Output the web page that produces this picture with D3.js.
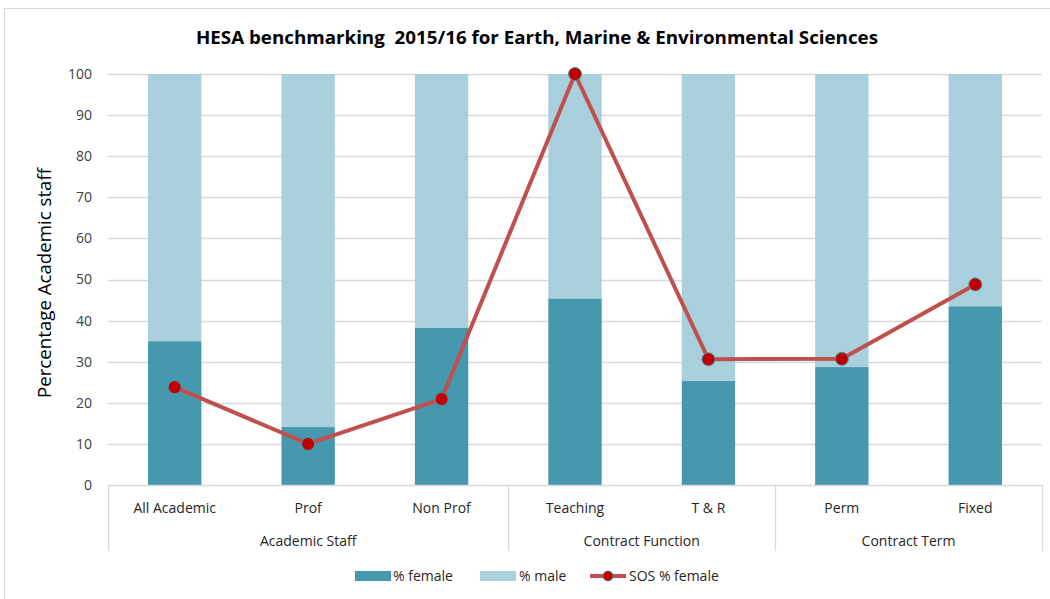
<!DOCTYPE html>
<html>
<head>
<meta charset="utf-8">
<script src="https://cdn.jsdelivr.net/npm/d3@7"></script>
<style>
  html, body { margin: 0; padding: 0; background: #fff; }
  svg { display: block; font-family: "Open Sans", sans-serif; }
</style>
</head>
<body>
<svg id="chart" width="1050" height="599"></svg>
<script>
// Staff categories and their groupings
const categories = ["All Academic", "Prof", "Non Prof", "Teaching", "T & R", "Perm", "Fixed"];
const groups = [
  { name: "Academic Staff", members: ["All Academic", "Prof", "Non Prof"] },
  { name: "Contract Function", members: ["Teaching", "T & R"] },
  { name: "Contract Term", members: ["Perm", "Fixed"] }
];
// Percentages (HESA benchmark) and SOS female share
const pctFemale = [35.0, 14.1, 38.3, 45.4, 25.3, 28.7, 43.5];
const pctMale = pctFemale.map(v => 100 - v);
const sosFemale = [23.8, 10.0, 20.9, 100.0, 30.6, 30.7, 48.8];
const yTicks = [0, 10, 20, 30, 40, 50, 60, 70, 80, 90, 100];

const colFemale = "#4598ae";
const colMale = "#aacfdd";
const colLine = "#c0504d";
const colMarker = "#c00000";
const colGrid = "#d9d9d9";

const svg = d3.select("#chart");
const W = 1050, H = 599;

// outer frame
svg.append("rect").attr("x", 4.5).attr("y", 8.5).attr("width", W - 4).attr("height", H - 6)
  .attr("fill", "#fff").attr("stroke", "#d9d9d9").attr("stroke-width", 1);

const x = d3.scaleBand().domain(categories).range([108, 1042]).paddingInner(0.6).paddingOuter(0.3);
const y = d3.scaleLinear().domain([0, 100]).range([485, 74]);

// title
svg.append("text").attr("x", 537).attr("y", 44).attr("text-anchor", "middle")
  .attr("font-size", 18.5).attr("font-weight", "bold").attr("fill", "#000")
  .attr("textLength", 682).attr("lengthAdjust", "spacingAndGlyphs")
  .style("white-space", "pre")
  .text("HESA benchmarking  2015/16 for Earth, Marine & Environmental Sciences");

// gridlines
svg.append("g").selectAll("line").data(yTicks.filter(d => d > 0)).join("line")
  .attr("x1", 108).attr("x2", 1042)
  .attr("y1", d => Math.round(y(d)) + 0.5).attr("y2", d => Math.round(y(d)) + 0.5)
  .attr("stroke", colGrid).attr("stroke-width", 1.3);

// y axis labels
const yAxis = d3.axisLeft(y).tickValues(yTicks).tickSize(0).tickPadding(16);
svg.append("g").attr("transform", "translate(108,0)").call(yAxis)
  .call(g => g.select(".domain").remove())
  .call(g => g.selectAll("text").attr("font-size", 14).attr("fill", "#404040")
    .attr("font-family", "'Open Sans', sans-serif"));

svg.append("text").attr("transform", "translate(51,283) rotate(-90)")
  .attr("text-anchor", "middle").attr("font-size", 18).attr("fill", "#000")
  .attr("textLength", 230).attr("lengthAdjust", "spacingAndGlyphs")
  .text("Percentage Academic staff");

// stacked bars
const rows = categories.map((c, i) => ({ cat: c, female: pctFemale[i], male: pctMale[i] }));
const stacked = d3.stack().keys(["female", "male"])(rows);
const colours = { female: colFemale, male: colMale };
svg.append("g").selectAll("g").data(stacked).join("g")
  .attr("fill", d => colours[d.key])
  .selectAll("rect").data(d => d).join("rect")
  .attr("x", d => x(d.data.cat)).attr("width", x.bandwidth())
  .attr("y", d => y(d[1])).attr("height", d => y(d[0]) - y(d[1]));

// category axis (two levels)
const axisG = svg.append("g").attr("stroke", colGrid).attr("stroke-width", 1.3);
axisG.append("line").attr("x1", 108).attr("x2", 1042).attr("y1", 485.5).attr("y2", 485.5);
const step = x.step();
const x0 = 108;
let idx = 0;
const bounds = [x0];
groups.forEach(g => { idx += g.members.length; bounds.push(x0 + idx * step); });
axisG.selectAll("line.sep").data(bounds).join("line").attr("class", "sep")
  .attr("x1", d => Math.round(d) + 0.5).attr("x2", d => Math.round(d) + 0.5)
  .attr("y1", 485).attr("y2", 551);

svg.append("g").selectAll("text").data(categories).join("text")
  .attr("x", d => x(d) + x.bandwidth() / 2).attr("y", 513)
  .attr("text-anchor", "middle").attr("font-size", 14).attr("fill", "#262626")
  .text(d => d);

svg.append("g").selectAll("text").data(groups).join("text")
  .attr("x", (g, i) => (bounds[i] + bounds[i + 1]) / 2).attr("y", 546)
  .attr("text-anchor", "middle").attr("font-size", 14).attr("fill", "#262626")
  .text(g => g.name);

// SOS line
const pts = categories.map((c, i) => ({ cat: c, v: sosFemale[i] }));
const line = d3.line().x(d => x(d.cat) + x.bandwidth() / 2).y(d => y(d.v));
svg.append("path").datum(pts).attr("d", line).attr("fill", "none")
  .attr("stroke", colLine).attr("stroke-width", 4).attr("stroke-linejoin", "round");
svg.append("g").selectAll("circle").data(pts).join("circle")
  .attr("cx", d => x(d.cat) + x.bandwidth() / 2).attr("cy", d => y(d.v)).attr("r", 6.5)
  .attr("fill", colMarker).attr("stroke", "#4598ae").attr("stroke-width", 1);

// legend
const leg = svg.append("g").attr("font-size", 14).attr("fill", "#262626");
const ly = 576;
leg.append("rect").attr("x", 355).attr("y", ly - 5).attr("width", 36).attr("height", 10).attr("fill", colFemale);
leg.append("text").attr("x", 393).attr("y", ly + 5).text("% female");
leg.append("rect").attr("x", 480).attr("y", ly - 5).attr("width", 36).attr("height", 10).attr("fill", colMale);
leg.append("text").attr("x", 519).attr("y", ly + 5).text("% male");
leg.append("line").attr("x1", 590).attr("x2", 626).attr("y1", ly).attr("y2", ly)
  .attr("stroke", colLine).attr("stroke-width", 4);
leg.append("circle").attr("cx", 608).attr("cy", ly).attr("r", 5)
  .attr("fill", colMarker).attr("stroke", "#4598ae").attr("stroke-width", 1);
leg.append("text").attr("x", 629).attr("y", ly + 5).text("SOS % female");
</script>
</body>
</html>
